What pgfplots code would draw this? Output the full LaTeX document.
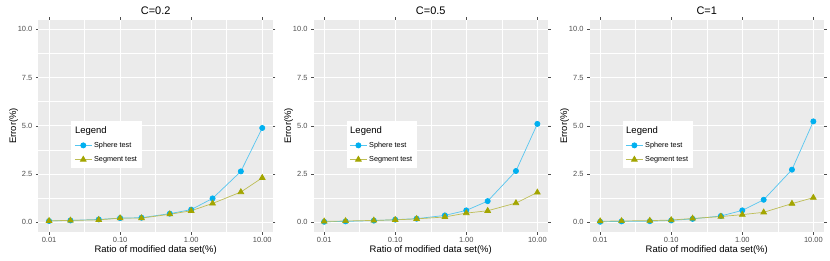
\documentclass[border=0pt]{standalone}
\usepackage{pgfplots}
\pgfplotsset{compat=1.18}
\usepackage{fontspec}
\setmainfont{Liberation Sans}
\definecolor{bg}{HTML}{EBEBEB}
\definecolor{sph}{HTML}{00B0F0}
\definecolor{sphl}{HTML}{55C6F0}
\definecolor{seg}{HTML}{A3A500}
\definecolor{segl}{HTML}{BDBD55}
\definecolor{tickc}{HTML}{4D4D4D}
\pgfplotsset{
  every axis/.append style={
    scale only axis, width=234.5bp, height=212.3bp,
    xmin=0.007079, xmax=14.125, ymin=-0.5, ymax=10.5,
    axis background/.style={fill=bg},
    axis line style={draw=none},
    xtick={0.01,0.1,1,10}, xticklabels={0.01,0.10,1.00,10.00},
    ytick={0,2.5,5,7.5,10}, yticklabels={0.0,2.5,5.0,7.5,10.0},
    minor xtick={0.031623,0.31623,3.1623},
    minor ytick={1.25,3.75,6.25,8.75},
    grid=both,
    major grid style={white, line width=0.9bp},
    minor grid style={white, line width=0.45bp},
    tick align=outside, major tick length=2.5bp, minor tick length=0pt,
    tick style={color=tickc, line width=0.5bp},
    tick label style={font=\fontsize{7.5}{8}\selectfont, text=tickc},
    xlabel={Ratio of modified data set(\%)},
    ylabel={Error(\%)},
    label style={font=\fontsize{9.5}{10}\selectfont},
    xlabel style={yshift=4bp},
    ylabel style={yshift=-7bp},
    title style={font=\fontsize{11}{12}\selectfont, yshift=-4bp},
    xticklabel style={yshift=1bp},
    legend cell align=left,
    legend style={draw=none, fill=white, at={(0.14,0.523)}, anchor=north west,
      font=\fontsize{7.3}{8}\selectfont, inner xsep=3bp, inner ysep=3bp, row sep=3.5bp},
  },
}
\tikzset{
  sphs/.style={color=sphl, line width=0.7bp, mark=*, mark size=2.6bp,
    mark options={fill=sph, draw=sph}},
  segs/.style={color=segl, line width=0.7bp, mark=triangle*, mark size=3.3bp,
    mark options={fill=seg, draw=seg}},
}
\newcommand{\legtitle}{\addlegendimage{empty legend}\addlegendentry{\hspace*{-19bp}\fontsize{9.5}{10}\selectfont Legend}}
\begin{document}
\begin{tikzpicture}
\useasboundingbox (0,0) rectangle (830bp,261bp);
% Panel 1
\begin{axis}[xmode=log, at={(38.4bp,29bp)}, title={C=0.2}]
\legtitle
\addplot[sphs] coordinates {(0.01,0.07) (0.02,0.10) (0.05,0.15) (0.1,0.22) (0.2,0.24) (0.5,0.45) (1,0.66) (2,1.24) (5,2.64) (10,4.89)};
\addlegendentry{Sphere test}
\addplot[segs] coordinates {(0.01,0.08) (0.02,0.10) (0.05,0.13) (0.1,0.22) (0.2,0.22) (0.5,0.42) (1,0.60) (2,0.98) (5,1.57) (10,2.31)};
\addlegendentry{Segment test}
\end{axis}
% Panel 2
\begin{axis}[xmode=log, at={(313.5bp,29bp)}, title={C=0.5}]
\legtitle
\addplot[sphs] coordinates {(0.01,0.03) (0.02,0.05) (0.05,0.09) (0.1,0.14) (0.2,0.19) (0.5,0.36) (1,0.62) (2,1.10) (5,2.66) (10,5.10)};
\addlegendentry{Sphere test}
\addplot[segs] coordinates {(0.01,0.05) (0.02,0.07) (0.05,0.10) (0.1,0.13) (0.2,0.18) (0.5,0.28) (1,0.48) (2,0.60) (5,1.00) (10,1.55)};
\addlegendentry{Segment test}
\end{axis}
% Panel 3
\begin{axis}[xmode=log, at={(589.5bp,29bp)}, title={C=1}]
\legtitle
\addplot[sphs] coordinates {(0.01,0.03) (0.02,0.05) (0.05,0.06) (0.1,0.10) (0.2,0.18) (0.5,0.33) (1,0.62) (2,1.17) (5,2.73) (10,5.23)};
\addlegendentry{Sphere test}
\addplot[segs] coordinates {(0.01,0.06) (0.02,0.07) (0.05,0.09) (0.1,0.12) (0.2,0.20) (0.5,0.30) (1,0.40) (2,0.52) (5,0.97) (10,1.28)};
\addlegendentry{Segment test}
\end{axis}
\end{tikzpicture}
\end{document}
